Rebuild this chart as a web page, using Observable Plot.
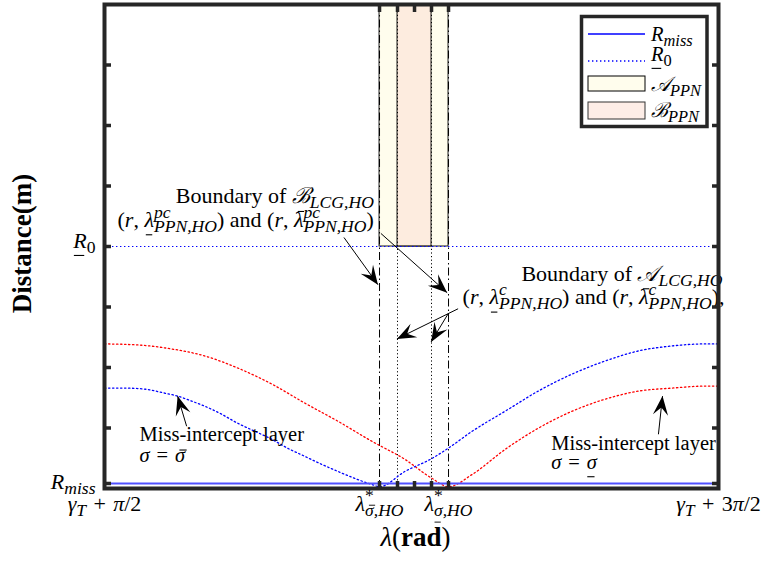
<!DOCTYPE html>
<html>
<head>
<meta charset="utf-8">
<script src="https://cdn.jsdelivr.net/npm/d3@7"></script>
<script src="https://cdn.jsdelivr.net/npm/@observablehq/plot@0.6"></script>
<style>
  body { margin: 0; background: #fff; }
  #chart { width: 778px; height: 562px; }
</style>
</head>
<body>
<div id="chart"></div>
<script>
// λ − γT in rad, distances in axis units (R0 = 4)
const LAMBDA_MIN = Math.PI / 2;
const LAMBDA_MAX = 3 * Math.PI / 2;
const R0 = 4;
const R_MISS = 0.083;

// characteristic headings on the λ axis
const LAM_SIGMA_BAR = 2.978;   // λ*_{σ̄,HO}
const LAM_PC_LO = 3.070;
const LAM_MID = 3.157;
const LAM_PC_HI = 3.244;
const LAM_SIGMA_UNDER = 3.331; // λ*_{σ̲,HO}
const xTicks = [LAM_SIGMA_BAR, LAM_PC_LO, LAM_MID, LAM_PC_HI, LAM_SIGMA_UNDER];
const yTicks = [R_MISS, 1, 2, 3, 4, 5, 6, 7];

// miss-intercept layer, σ = σ̄ (blue)
const blueLambda = [1.571, 1.673, 1.776, 1.878, 1.945, 2.017, 2.083, 2.170, 2.252, 2.340, 2.427, 2.509, 2.596, 2.683, 2.765, 2.852, 2.939, 2.978, 3.108, 3.247, 3.329, 3.452, 3.621, 3.790, 3.964, 4.133, 4.303, 4.477, 4.646, 4.712];
const blueDist   = [1.660, 1.660, 1.643, 1.577, 1.527, 1.444, 1.361, 1.228, 1.079, 0.946, 0.813, 0.664, 0.531, 0.398, 0.282, 0.166, 0.066, 0.030, 0.282, 0.498, 0.664, 0.946, 1.278, 1.610, 1.892, 2.108, 2.274, 2.357, 2.390, 2.390];

// miss-intercept layer, σ = σ̲ (red)
const redLambda = [1.571, 1.740, 1.914, 2.083, 2.252, 2.427, 2.596, 2.765, 2.939, 3.108, 3.247, 3.331, 3.452, 3.621, 3.790, 3.964, 4.133, 4.303, 4.477, 4.646, 4.712];
const redDist   = [2.390, 2.373, 2.307, 2.191, 1.992, 1.726, 1.411, 1.112, 0.780, 0.481, 0.166, 0.030, 0.232, 0.647, 0.996, 1.278, 1.477, 1.610, 1.660, 1.693, 1.693];

const blueLayer = blueLambda.map((x, i) => ({x, y: blueDist[i]}));
const redLayer = redLambda.map((x, i) => ({x, y: redDist[i]}));

// PPN regions above R0
const regionA = [{x1: LAM_SIGMA_BAR, x2: LAM_SIGMA_UNDER, y1: R0, y2: 8}];
const regionB = [{x1: LAM_PC_LO, x2: LAM_PC_HI, y1: R0, y2: 8}];

// frame geometry
const W = 778, H = 562;
const M = {left: 104, right: 60, top: 4, bottom: 74};
const KX = (W - M.left - M.right) / (LAMBDA_MAX - LAMBDA_MIN);
const KY = (H - M.top - M.bottom) / 8;

// annotation arrows (tail → head)
const arrows = [
  {x1: 2.796, y1: 4.149, x2: 2.970, y2: 3.369},
  {x1: 2.985, y1: 4.216, x2: 3.324, y2: 3.237},
  {x1: 3.380, y1: 2.971, x2: 3.067, y2: 2.473},
  {x1: 3.329, y1: 2.888, x2: 3.242, y2: 2.423},
  {x1: 1.991, y1: 1.029, x2: 1.945, y2: 1.527},
  {x1: 4.405, y1: 0.896, x2: 4.426, y2: 1.527}
];
const headAngle = d => Math.atan2((d.x2 - d.x1) * KX, (d.y2 - d.y1) * KY) * 180 / Math.PI;

// filled swept-back arrowhead, tip at the origin pointing up
const arrowHead = {
  draw(ctx, size) {
    const r = Math.sqrt(size / Math.PI);
    const L = 2 * r, w = 0.8 * r;
    ctx.moveTo(0, 0);
    ctx.lineTo(w, L);
    ctx.lineTo(0, 0.6 * L);
    ctx.lineTo(-w, L);
    ctx.closePath();
  }
};

// rich labels: [text, flags]; i italic, b bold, _ sub, ^ sup, k sub stacked under sup, u underline, o overline
const FS = 20.5;   // annotation size
const NS = 22;     // boundary notes size
const TS = 22;     // tick label size
const AS = 27;     // axis title size
const SP = "\u2004";
const rich = {
  lcgB1: {fs: NS, parts: [["Boundary of "], ["ℬ", "i"], ["LCG,HO", "_i"]]},
  lcgB2: {fs: NS, parts: [["("], ["r", "i"], [", "], ["λ", "iu"], ["pc", "^i"], ["PPN,HO", "_ik"], [") and ("], ["r", "i"], [", "], ["λ", "io"], ["pc", "^i"], ["PPN,HO", "_ik"], [")"]]},
  lcgA1: {fs: NS, parts: [["Boundary of "], ["𝒜", "i"], ["LCG,HO", "_i"]]},
  lcgA2: {fs: NS, parts: [["("], ["r", "i"], [", "], ["λ", "iu"], ["c", "^i"], ["PPN,HO", "_ik"], [") and ("], ["r", "i"], [", "], ["λ", "io"], ["c", "^i"], ["PPN,HO", "_ik"], ["),"]]},
  missHi: {fs: FS, parts: [["Miss-intercept layer"]]},
  sigBar: {fs: FS, parts: [["σ", "i"], [SP + "=" + SP], ["σ", "io"]]},
  missLo: {fs: FS, parts: [["Miss-intercept layer"]]},
  sigUnder: {fs: FS, parts: [["σ", "i"], [SP + "=" + SP], ["σ", "iu"]]},
  tickR0: {fs: TS, parts: [["R", "iu"], ["0", "_"]]},
  tickRmiss: {fs: TS, parts: [["R", "i"], ["miss", "_i"]]},
  tickGL: {fs: TS, parts: [["γ", "i"], ["T", "_i"], [SP + "+" + SP], ["π", "i"], ["/2"]]},
  tickGR: {fs: TS, parts: [["γ", "i"], ["T", "_i"], [SP + "+" + SP + "3"], ["π", "i"], ["/2"]]},
  tickLamBar: {fs: TS, parts: [["λ", "i"], ["*", "^"], ["σ", "_iko"], [",HO", "_i"]]},
  tickLamUnder: {fs: TS, parts: [["λ", "i"], ["*", "^"], ["σ", "_iku"], [",HO", "_i"]]},
  titleY: {fs: AS, parts: [["Distance(m)", "b"]]},
  titleX: {fs: AS, parts: [["λ", "i"], ["("], ["rad", "b"], [")"]]},
  legRmiss: {fs: FS, parts: [["R", "i"], ["miss", "_i"]]},
  legR0: {fs: FS, parts: [["R", "iu"], ["0", "_"]]},
  legA: {fs: FS, parts: [["𝒜", "i"], ["PPN", "_i"]]},
  legB: {fs: FS, parts: [["ℬ", "i"], ["PPN", "_i"]]}
};

const notesEnd = [
  {key: "lcgB1", x: 2.949, y: 4.837},
  {key: "lcgB2", x: 2.949, y: 4.441},
  {key: "lcgA1", x: 4.733, y: 3.545},
  {key: "lcgA2", x: 4.743, y: 3.163}
];
const notesStart = [
  {key: "missHi", x: 1.750, y: 0.890},
  {key: "sigBar", x: 1.750, y: 0.541},
  {key: "missLo", x: 3.857, y: 0.740},
  {key: "sigUnder", x: 3.857, y: 0.425}
];
const xLabels = [
  {key: "tickGL", x: LAMBDA_MIN},
  {key: "tickLamBar", x: LAM_SIGMA_BAR},
  {key: "tickLamUnder", x: LAM_SIGMA_UNDER},
  {key: "tickGR", x: LAMBDA_MAX}
];

const INK = "#262626";
const FONT = "Liberation Serif";

const plot = Plot.plot({
  width: W,
  height: H,
  marginLeft: M.left,
  marginRight: M.right,
  marginTop: M.top,
  marginBottom: M.bottom,
  style: {fontFamily: FONT, fontSize: FS + "px", background: "#fff", color: "#000", overflow: "visible"},
  x: {domain: [LAMBDA_MIN, LAMBDA_MAX], axis: null},
  y: {domain: [0, 8], axis: null},
  marks: [
    Plot.rect(regionA, {x1: "x1", x2: "x2", y1: "y1", y2: "y2", fill: "#fffded", stroke: "#000", strokeWidth: 0.9}),
    Plot.rect(regionB, {x1: "x1", x2: "x2", y1: "y1", y2: "y2", fill: "rgb(251,222,212)", fillOpacity: 0.55, stroke: "#000", strokeWidth: 0.9}),
    Plot.ruleX([LAM_SIGMA_BAR, LAM_SIGMA_UNDER], {stroke: "#000", strokeWidth: 1, strokeDasharray: "8,3,1.5,3"}),
    Plot.ruleX([LAM_PC_LO, LAM_PC_HI], {stroke: "#000", strokeWidth: 1, strokeDasharray: "1.2,2.4"}),
    Plot.ruleY([R0], {stroke: "#0000ff", strokeWidth: 1.1, strokeDasharray: "1.4,2.6"}),
    Plot.line(redLayer, {x: "x", y: "y", curve: "monotone-x", stroke: "#ff0000", strokeWidth: 1.3, strokeDasharray: "1.4,2.6"}),
    Plot.line(blueLayer, {x: "x", y: "y", curve: "monotone-x", stroke: "#0000ff", strokeWidth: 1.3, strokeDasharray: "1.4,2.6"}),
    Plot.ruleY([R_MISS], {stroke: "#5050ff", strokeWidth: 1.8}),
    Plot.text(notesEnd, {x: "x", y: "y", text: "key", textAnchor: "end", fontSize: NS, fontFamily: FONT, fill: "#000"}),
    Plot.text(notesStart, {x: "x", y: "y", text: "key", textAnchor: "start", fontSize: FS, fontFamily: FONT, fill: "#000"}),
    Plot.link(arrows, {x1: "x1", y1: "y1", x2: "x2", y2: "y2", stroke: "#000", strokeWidth: 1}),
    Plot.dot(arrows, {x: "x2", y: "y2", symbol: arrowHead, r: 9.5, rotate: headAngle, fill: "#000", stroke: "none"}),
    Plot.frame({stroke: INK, strokeWidth: 4}),
    Plot.axisX(xTicks, {anchor: "bottom", tickSize: -7, strokeWidth: 3.5, stroke: INK, fill: "none", label: null}),
    Plot.axisX(xTicks, {anchor: "top", tickSize: -7, strokeWidth: 3.5, stroke: INK, fill: "none", label: null}),
    Plot.axisY(yTicks, {anchor: "left", tickSize: -7, strokeWidth: 3.5, stroke: INK, fill: "none", label: null}),
    Plot.axisY(yTicks, {anchor: "right", tickSize: -7, strokeWidth: 3.5, stroke: INK, fill: "none", label: null}),
    Plot.text(xLabels, {x: "x", text: "key", frameAnchor: "bottom", textAnchor: "middle", dy: 22, fontSize: TS, fontFamily: FONT, fill: "#000"}),
    Plot.text([{key: "tickR0", y: R0}], {y: "y", text: "key", frameAnchor: "left", textAnchor: "end", dx: -9, dy: -6, fontSize: TS, fontFamily: FONT, fill: "#000"}),
    Plot.text([{key: "tickRmiss", y: R_MISS}], {y: "y", text: "key", frameAnchor: "left", textAnchor: "end", dx: -9, dy: -2, fontSize: TS, fontFamily: FONT, fill: "#000"}),
    Plot.text(["titleY"], {text: d => d, frameAnchor: "left", textAnchor: "middle", rotate: -90, dx: -82, dy: -3, fontSize: AS, fontFamily: FONT, fill: "#000"}),
    Plot.text(["titleX"], {text: d => d, frameAnchor: "bottom", textAnchor: "middle", dx: 4, dy: 57, fontSize: AS, fontFamily: FONT, fill: "#000"})
  ]
});

document.getElementById("chart").appendChild(plot);

// legend box, top right inside the axes
const svg = d3.select(plot);
const leg = svg.append("g").attr("class", "legend").attr("font-family", FONT).attr("text-anchor", "start");
leg.append("rect").attr("x", 581.5).attr("y", 16.5).attr("width", 125.5).attr("height", 110)
  .attr("fill", "#fff").attr("stroke", INK).attr("stroke-width", 3.5);
leg.append("line").attr("x1", 588).attr("x2", 645).attr("y1", 34).attr("y2", 34)
  .attr("stroke", "#0000ff").attr("stroke-width", 1.3);
leg.append("line").attr("x1", 588).attr("x2", 645).attr("y1", 61).attr("y2", 61)
  .attr("stroke", "#0000ff").attr("stroke-width", 1.3).attr("stroke-dasharray", "1.4,2.6");
leg.append("rect").attr("x", 588).attr("y", 76).attr("width", 57).attr("height", 15)
  .attr("fill", "#fffded").attr("stroke", "#000").attr("stroke-width", 1);
leg.append("rect").attr("x", 588).attr("y", 102).attr("width", 57).attr("height", 17)
  .attr("fill", "rgb(251,222,212)").attr("fill-opacity", 0.55).attr("stroke", "#333").attr("stroke-width", 1);
[["legRmiss", 41], ["legR0", 61], ["legA", 91], ["legB", 117]].forEach(([key, y]) => {
  leg.append("text").attr("x", 651).attr("y", y).attr("font-size", FS).text(key);
});

// turn label keys into typeset text
const SVGNS = "http://www.w3.org/2000/svg";
const SUB = 0.8;
function setRich(textEl, def) {
  const {fs, parts} = def;
  while (textEl.firstChild) textEl.removeChild(textEl.firstChild);
  let shift = 0, supWidth = 0, index = 0;
  const bars = [];
  for (const [t, f = ""] of parts) {
    const ts = document.createElementNS(SVGNS, "tspan");
    const small = f.includes("_") || f.includes("^");
    const target = f.includes("_") ? fs * 0.24 : f.includes("^") ? -fs * 0.42 : 0;
    if (target !== shift) { ts.setAttribute("dy", target - shift); shift = target; }
    if (f.includes("k")) ts.setAttribute("dx", -supWidth);
    if (small) ts.setAttribute("font-size", fs * SUB);
    if (f.includes("i")) ts.setAttribute("font-style", "italic");
    if (f.includes("b")) ts.setAttribute("font-weight", "bold");
    ts.textContent = t;
    textEl.appendChild(ts);
    if (f.includes("^")) supWidth = ts.getComputedTextLength();
    if (f.includes("u") || f.includes("o")) {
      bars.push({index, n: t.length, size: small ? fs * SUB : fs, over: f.includes("o"), tall: /[λ]/.test(t)});
    }
    index += t.length;
  }
  // bars above / below single glyphs
  for (const b of bars) {
    const p0 = textEl.getStartPositionOfChar(b.index);
    const p1 = textEl.getEndPositionOfChar(b.index + b.n - 1);
    const h = b.over ? (b.tall ? 0.7 : 0.6) * b.size : -0.36 * b.size;
    const slant = (b.tall ? 0.1 : 0.2) * h;
    const line = document.createElementNS(SVGNS, "line");
    line.setAttribute("x1", p0.x + 0.1 * b.size + slant);
    line.setAttribute("x2", p1.x - 0.04 * b.size + slant);
    line.setAttribute("y1", p0.y - h);
    line.setAttribute("y2", p0.y - h);
    line.setAttribute("stroke", "#000");
    line.setAttribute("stroke-width", b.size > 18 ? 1.1 : 0.9);
    const tr = textEl.getAttribute("transform");
    if (tr) line.setAttribute("transform", tr);
    textEl.parentNode.appendChild(line);
  }
}
plot.querySelectorAll("text").forEach(el => {
  const def = rich[el.textContent];
  if (def) setRich(el, def);
});
</script>
</body>
</html>
